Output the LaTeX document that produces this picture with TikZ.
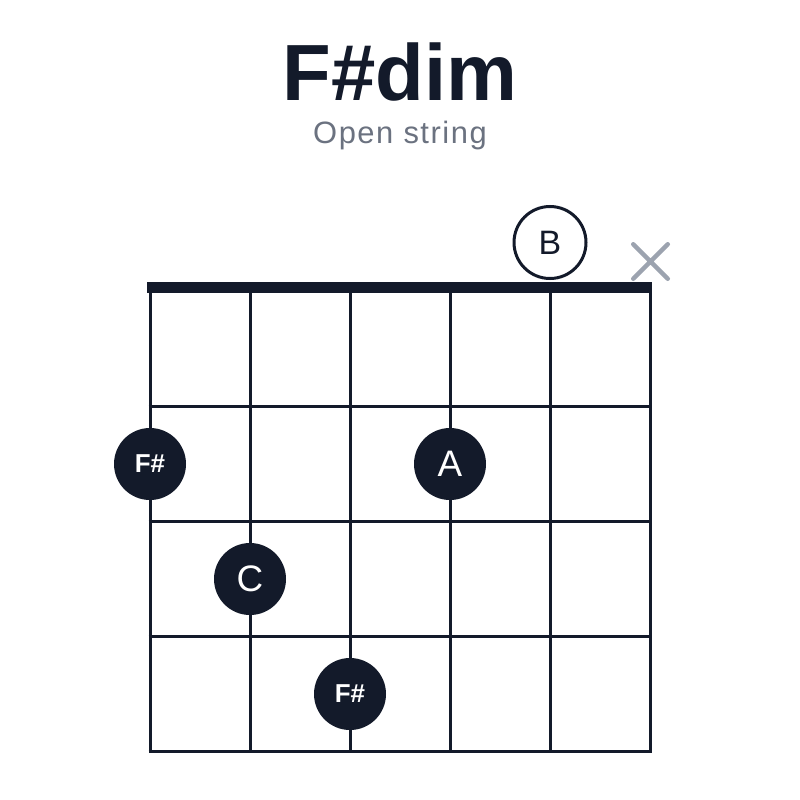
\documentclass[tikz,border=0pt]{standalone}
\usepackage{fontspec}
\setmainfont{Liberation Sans}
\usetikzlibrary{shapes.misc}
\definecolor{ink}{HTML}{131A2A}
\definecolor{subgray}{HTML}{6B7280}
\definecolor{mutegray}{HTML}{9CA3AF}
\begin{document}
\begin{tikzpicture}[x=1bp,y=-1bp,
    fingerdot/.style={circle, fill=ink, text=white, minimum size=72bp, inner sep=0pt,
        font=\fontsize{37}{37}\selectfont},
    sharpdot/.style={fingerdot, font=\fontsize{26}{26}\selectfont\bfseries},
    opendot/.style={circle, draw=ink, line width=3bp, fill=white, text=ink,
        minimum size=72bp, inner sep=0pt, font=\fontsize{34}{34}\selectfont},
    mutemark/.style={cross out, draw=mutegray, line width=4.5bp, line cap=round,
        minimum size=30bp, inner sep=0pt}]
    \useasboundingbox[fill=white] (0,0) rectangle (800,800);
    % Title and subtitle
    \node[anchor=base, text=ink, font=\fontsize{80}{80}\selectfont\bfseries] (title) at (400,100) {F\#dim};
    \node[anchor=base, text=subgray, font=\fontsize{31}{31}\selectfont\addfontfeature{LetterSpace=5}] (subtitle) at (400,143.5) {Open string};
    % Strings and frets
    \foreach \s in {0,...,5}
        \draw[ink, line width=3bp] (150+100*\s,287.5) -- (150+100*\s,751.5);
    \foreach \f in {1,...,4}
        \draw[ink, line width=3bp] (148.5,291.5+115*\f) -- (651.5,291.5+115*\f);
    \draw[ink, line width=11bp] (147,287.5) -- (652,287.5);
    % Open and muted strings
    \node[opendot] (openB) at (550,242.5) {B};
    \node[mutemark] (muteE) at (650.5,261.5) {};
    % Fingered notes
    \node[sharpdot] (noteFs) at (150,464) {F\#};
    \node[fingerdot] (noteA) at (450,464) {A};
    \node[fingerdot] (noteC) at (250,579) {C};
    \node[sharpdot] (noteFsb) at (350,694) {F\#};
\end{tikzpicture}
\end{document}
